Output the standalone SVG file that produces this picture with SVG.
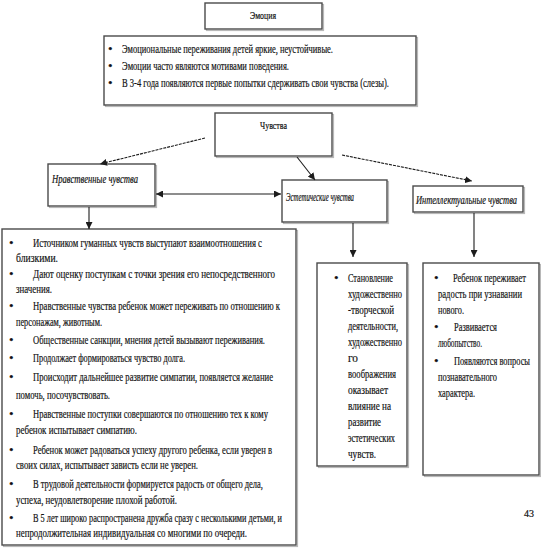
<svg xmlns="http://www.w3.org/2000/svg" width="541" height="555" viewBox="0 0 541 555">
<style>
.box{fill:#fff;stroke:#4a4a4a;stroke-width:1.4}
.sh{fill:none;stroke:#b8b8b8;stroke-width:1.2}
.t{font-family:"Liberation Serif","Times New Roman",serif;font-size:13px;fill:#111;stroke:#111;stroke-width:0.2}
.s{font-size:10px}
.i{font-style:italic}
.ln{fill:none;stroke:#1c1c1c;stroke-width:1.1}
.d{stroke-dasharray:3 1}
</style>
<defs>
<marker id="ah" viewBox="0 0 10 10" refX="10" refY="5" markerWidth="7" markerHeight="7" orient="auto-start-reverse" markerUnits="userSpaceOnUse">
<path d="M0,0 L10,5 L0,10 z" fill="#1c1c1c"/>
</marker>
</defs>
<rect width="541" height="555" fill="#fff"/>

<g id="emotion">
<rect class="sh" x="206.5" y="4.5" width="117" height="26"/>
<rect class="box" x="205" y="3" width="117" height="26"/>
<text class="t s" x="250" y="19" textLength="26" lengthAdjust="spacingAndGlyphs">Эмоция</text>
</g>

<g id="emotion-list">
<rect class="sh" x="105.5" y="37.5" width="312" height="69"/>
<rect class="box" x="104" y="36" width="312" height="69"/>
<text class="t" x="108" y="53">•</text>
<text class="t" x="122" y="53" textLength="211" lengthAdjust="spacingAndGlyphs">Эмоциональные переживания детей яркие, неустойчивые.</text>
<text class="t" x="108" y="70">•</text>
<text class="t" x="122" y="70" textLength="167" lengthAdjust="spacingAndGlyphs">Эмоции часто являются мотивами поведения.</text>
<text class="t" x="108" y="87">•</text>
<text class="t" x="122" y="87" textLength="267" lengthAdjust="spacingAndGlyphs">В 3-4 года появляются первые попытки сдерживать свои чувства (слезы).</text>
</g>

<g id="feelings">
<rect class="sh" x="216.5" y="114.5" width="117" height="43"/>
<rect class="box" x="215" y="113" width="117" height="43"/>
<text class="t s" x="260" y="129" textLength="27" lengthAdjust="spacingAndGlyphs">Чувства</text>
</g>

<g id="moral">
<rect class="sh" x="49.5" y="165.5" width="107" height="42"/>
<rect class="box" x="48" y="164" width="107" height="42"/>
<text class="t i" x="52" y="183" textLength="86" lengthAdjust="spacingAndGlyphs">Нравственные чувства</text>
</g>

<g id="aesthetic">
<rect class="sh" x="283.5" y="181.5" width="105" height="42"/>
<rect class="box" x="282" y="180" width="105" height="42"/>
<text class="t i" x="286" y="201" textLength="68" lengthAdjust="spacingAndGlyphs">Эстетические чувства</text>
</g>

<g id="intellectual">
<rect class="sh" x="414.5" y="187.5" width="110" height="26"/>
<rect class="box" x="413" y="186" width="110" height="26"/>
<text class="t i" x="416" y="204" textLength="101" lengthAdjust="spacingAndGlyphs">Интеллектуальные чувства</text>
</g>

<g id="moral-list">
<rect class="sh" x="3.5" y="230.5" width="294" height="316"/>
<rect class="box" x="2" y="229" width="294" height="316"/>
<text class="t" x="9" y="247">•</text>
<text class="t" x="33" y="247" textLength="229" lengthAdjust="spacingAndGlyphs">Источником гуманных чувств выступают взаимоотношения с</text>
<text class="t" x="16" y="262" textLength="42" lengthAdjust="spacingAndGlyphs">близкими.</text>
<text class="t" x="9" y="278">•</text>
<text class="t" x="33" y="278" textLength="242" lengthAdjust="spacingAndGlyphs">Дают оценку поступкам с точки зрения его непосредственного</text>
<text class="t" x="16" y="293" textLength="36" lengthAdjust="spacingAndGlyphs">значения.</text>
<text class="t" x="9" y="310">•</text>
<text class="t" x="33" y="310" textLength="247" lengthAdjust="spacingAndGlyphs">Нравственные чувства ребенок может переживать по отношению к</text>
<text class="t" x="16" y="326" textLength="86" lengthAdjust="spacingAndGlyphs">персонажам, животным.</text>
<text class="t" x="9" y="344">•</text>
<text class="t" x="33" y="344" textLength="232" lengthAdjust="spacingAndGlyphs">Общественные санкции, мнения детей вызывают переживания.</text>
<text class="t" x="9" y="362">•</text>
<text class="t" x="33" y="362" textLength="152" lengthAdjust="spacingAndGlyphs">Продолжает формироваться чувство долга.</text>
<text class="t" x="9" y="381">•</text>
<text class="t" x="33" y="381" textLength="240" lengthAdjust="spacingAndGlyphs">Происходит дальнейшее развитие симпатии, появляется желание</text>
<text class="t" x="16" y="399" textLength="94" lengthAdjust="spacingAndGlyphs">помочь, посочувствовать.</text>
<text class="t" x="9" y="418">•</text>
<text class="t" x="33" y="418" textLength="235" lengthAdjust="spacingAndGlyphs">Нравственные поступки совершаются по отношению тех к кому</text>
<text class="t" x="16" y="434" textLength="121" lengthAdjust="spacingAndGlyphs">ребенок испытывает симпатию.</text>
<text class="t" x="9" y="454">•</text>
<text class="t" x="33" y="454" textLength="239" lengthAdjust="spacingAndGlyphs">Ребенок может радоваться успеху другого ребенка, если уверен в</text>
<text class="t" x="16" y="469" textLength="182" lengthAdjust="spacingAndGlyphs">своих силах, испытывает зависть если не  уверен.</text>
<text class="t" x="9" y="488">•</text>
<text class="t" x="33" y="488" textLength="230" lengthAdjust="spacingAndGlyphs">В трудовой деятельности формируется радость от общего дела,</text>
<text class="t" x="16" y="504" textLength="161" lengthAdjust="spacingAndGlyphs">успеха, неудовлетворение плохой работой.</text>
<text class="t" x="9" y="522">•</text>
<text class="t" x="33" y="522" textLength="249" lengthAdjust="spacingAndGlyphs">В 5 лет широко распространена дружба сразу с несколькими детьми, и</text>
<text class="t" x="16" y="537" textLength="231" lengthAdjust="spacingAndGlyphs">непродолжительная индивидуальная со многими по очереди.</text>
</g>

<g id="aesthetic-list">
<rect class="sh" x="318.5" y="264.5" width="90" height="203"/>
<rect class="box" x="317" y="263" width="90" height="203"/>
<text class="t" x="334" y="282">•</text>
<text class="t" x="348" y="282" textLength="45" lengthAdjust="spacingAndGlyphs">Становление</text>
<text class="t" x="348" y="298" textLength="54" lengthAdjust="spacingAndGlyphs">художественно</text>
<text class="t" x="348" y="314" textLength="46" lengthAdjust="spacingAndGlyphs">-творческой</text>
<text class="t" x="348" y="330" textLength="50" lengthAdjust="spacingAndGlyphs">деятельности,</text>
<text class="t" x="348" y="346" textLength="54" lengthAdjust="spacingAndGlyphs">художественно</text>
<text class="t" x="348" y="362" textLength="10" lengthAdjust="spacingAndGlyphs">го</text>
<text class="t" x="348" y="378" textLength="48" lengthAdjust="spacingAndGlyphs">воображения</text>
<text class="t" x="348" y="394" textLength="40" lengthAdjust="spacingAndGlyphs">оказывает</text>
<text class="t" x="348" y="410" textLength="43" lengthAdjust="spacingAndGlyphs">влияние на</text>
<text class="t" x="348" y="426" textLength="33" lengthAdjust="spacingAndGlyphs">развитие</text>
<text class="t" x="348" y="442" textLength="47" lengthAdjust="spacingAndGlyphs">эстетических</text>
<text class="t" x="348" y="458" textLength="28" lengthAdjust="spacingAndGlyphs">чувств.</text>
</g>

<g id="intellectual-list">
<rect class="sh" x="424.5" y="264.5" width="116" height="212"/>
<rect class="box" x="423" y="263" width="116" height="212"/>
<text class="t" x="434" y="282">•</text>
<text class="t" x="453" y="282" textLength="73" lengthAdjust="spacingAndGlyphs">Ребенок переживает</text>
<text class="t" x="438" y="298" textLength="84" lengthAdjust="spacingAndGlyphs">радость при узнавании</text>
<text class="t" x="438" y="314" textLength="26" lengthAdjust="spacingAndGlyphs">нового.</text>
<text class="t" x="434" y="331">•</text>
<text class="t" x="454" y="331" textLength="43" lengthAdjust="spacingAndGlyphs">Развивается</text>
<text class="t" x="438" y="347" textLength="44" lengthAdjust="spacingAndGlyphs">любопытство.</text>
<text class="t" x="434" y="365">•</text>
<text class="t" x="454" y="365" textLength="76" lengthAdjust="spacingAndGlyphs">Появляются вопросы</text>
<text class="t" x="438" y="381" textLength="59" lengthAdjust="spacingAndGlyphs">познавательного</text>
<text class="t" x="438" y="397" textLength="37" lengthAdjust="spacingAndGlyphs">характера.</text>
</g>

<g id="connectors">
<path class="ln d" d="M205,138 L100,164" marker-end="url(#ah)"/>
<path class="ln" d="M297,157 L315,180" marker-end="url(#ah)"/>
<path class="ln d" d="M342,155 L472,181" marker-end="url(#ah)"/>
<path class="ln" d="M156,194 L281,194" marker-start="url(#ah)" marker-end="url(#ah)"/>
<path class="ln" d="M89,207 L89,229" marker-end="url(#ah)"/>
<path class="ln" d="M353,223 L353,257" marker-end="url(#ah)"/>
<path class="ln" d="M474,213 L474,257" marker-end="url(#ah)"/>
</g>

<text class="t s" x="524" y="517">43</text>
</svg>
